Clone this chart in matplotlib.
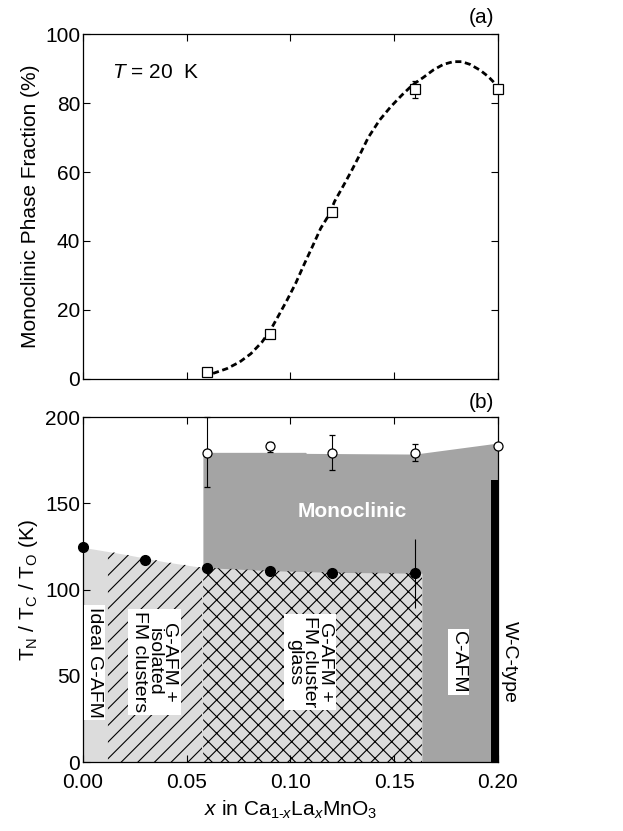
import numpy as np
import matplotlib.pyplot as plt

plt.rcParams['font.family'] = ['Liberation Sans', 'DejaVu Sans']
plt.rcParams['mathtext.fontset'] = 'custom'
plt.rcParams['mathtext.rm'] = 'Liberation Sans'
plt.rcParams['mathtext.it'] = 'Liberation Sans:italic'
plt.rcParams['hatch.linewidth'] = 0.8

# (a) monoclinic phase fraction at 20 K
frac_x = [0.06, 0.09, 0.12, 0.16, 0.20]
frac_y = [2.0, 13.0, 48.5, 84.0, 84.2]
frac_err = [1.0, 1.2, 1.2, 2.5, 1.0]

# dashed guide-to-the-eye curve
guide_x = [0.0627, 0.0694, 0.0755, 0.0809, 0.0863, 0.0903, 0.0944, 0.0984,
           0.1025, 0.1065, 0.1106, 0.1146, 0.1186, 0.1213, 0.1254, 0.1294,
           0.1335, 0.1375, 0.1429, 0.1483, 0.1537, 0.1591, 0.164, 0.1689,
           0.1737, 0.1785, 0.1826, 0.1866, 0.1915, 0.1955, 0.1987]
guide_y = [1.6, 3.0, 4.9, 7.3, 10.7, 14.1, 18.5, 22.9,
           27.7, 33.1, 38.4, 43.7, 47.6, 51.5, 55.9, 60.3,
           65.1, 70.0, 75.0, 78.9, 82.3, 85.4, 87.4, 89.6,
           91.2, 92.0, 92.0, 91.2, 89.5, 87.6, 85.6]

# (b) transition temperatures
to_x = [0.06, 0.09, 0.12, 0.16, 0.20]
to_y = [179.5, 183.0, 179.5, 179.5, 183.5]
to_err_lo = [20.0, 3.0, 10.0, 5.0, 0.0]
to_err_hi = [20.5, 2.5, 10.0, 5.0, 0.0]

tn_x = [0.0, 0.03, 0.06, 0.09, 0.12, 0.16]
tn_y = [124.5, 117.0, 112.3, 110.7, 109.5, 109.5]
tn_err = [0, 0, 0, 0, 0, 20.0]

# region boundaries
gafm_edge_x = [0.0, 0.02, 0.04, 0.0578, 0.09, 0.12, 0.1634]
gafm_edge_y = [124.5, 120.5, 116.0, 112.8, 111.0, 110.0, 109.5]
mono_edge_x = [0.0578, 0.1075, 0.1076, 0.16, 0.20]
mono_edge_y = [179.6, 179.6, 179.0, 178.6, 185.0]
hatch_split = [0.0115, 0.0578, 0.1634]
wc_bar = (0.1966, 0.20, 163.5)

fs = 15
fig = plt.figure(figsize=(6.23, 8.31), dpi=100)
ax1 = fig.add_axes([0.1332, 0.544, 0.666, 0.415])
ax2 = fig.add_axes([0.1332, 0.083, 0.666, 0.415])

for ax in (ax1, ax2):
    ax.tick_params(direction='in', top=True, right=True, length=5, width=0.8,
                   labelsize=fs)
    ax.tick_params(axis='y', pad=2)
    ax.tick_params(axis='x', pad=8)
    ax.set_xlim(0, 0.2)
    ax.set_xticks([0, 0.05, 0.10, 0.15, 0.20])
    for s in ax.spines.values():
        s.set_linewidth(0.9)

# ---- panel (a)
ax1.plot(guide_x, guide_y, color='black', lw=2.0, ls=(0, (2.2, 1.3)), zorder=2)
ax1.errorbar(frac_x, frac_y, yerr=frac_err, fmt='s', ms=6.5, mfc='white',
             mec='black', mew=0.9, ecolor='black', elinewidth=0.8, capsize=2,
             zorder=3, clip_on=False)
ax1.set_ylim(0, 100)
ax1.set_yticks([0, 20, 40, 60, 80, 100])
ax1.set_xticklabels([])
ax1.set_ylabel('Monoclinic Phase Fraction (%)', fontsize=fs, labelpad=4)
ax1.text(0.014, 89, r'$T$ = 20  K', fontsize=fs, va='center')
ax1.text(0.99, 1.02, '(a)', transform=ax1.transAxes, ha='right', va='bottom',
         fontsize=fs)

# ---- panel (b)
gx = np.linspace(0, hatch_split[2], 300)
gy = np.interp(gx, gafm_edge_x, gafm_edge_y)
mx = np.linspace(hatch_split[1], 0.2, 300)
my = np.interp(mx, mono_edge_x, mono_edge_y)

ax2.fill_between(mx, 0, my, color='#a4a4a4', lw=0, zorder=1)
ax2.fill_between(gx, 0, gy, color='#dcdcdc', lw=0, zorder=1.5)
m1 = (gx >= hatch_split[0]) & (gx <= hatch_split[1])
ax2.fill_between(gx[m1], 0, gy[m1], facecolor='none', edgecolor='black',
                 hatch='//', lw=0, zorder=1.6)
m2 = gx >= hatch_split[1]
ax2.fill_between(gx[m2], 0, gy[m2], facecolor='none', edgecolor='black',
                 hatch='xx', lw=0, zorder=1.6)
ax2.fill_between([wc_bar[0], wc_bar[1]], 0, wc_bar[2], color='black', lw=0,
                 zorder=1.7)

ax2.errorbar(to_x, to_y, yerr=[to_err_lo, to_err_hi], fmt='o', ms=6.5,
             mfc='white', mec='black', mew=0.9, ecolor='black',
             elinewidth=0.8, capsize=2, zorder=4, clip_on=False)
ax2.errorbar(tn_x, tn_y, yerr=tn_err, fmt='o', ms=7, mfc='black', mec='black',
             ecolor='black', elinewidth=0.8, capsize=0, zorder=4,
             clip_on=False)

ax2.set_ylim(0, 200)
ax2.set_yticks([0, 50, 100, 150, 200])
ax2.set_xticklabels(['0.00', '0.05', '0.10', '0.15', '0.20'])
ax2.set_ylabel(r'T$_\mathrm{N}$ / T$_\mathrm{C}$ / T$_\mathrm{O}$ (K)',
               fontsize=fs, labelpad=4)
ax2.set_xlabel(r'$x$ in Ca$_{1\text{-}x}$La$_x$MnO$_3$', fontsize=fs,
               labelpad=5)
ax2.text(0.99, 1.015, '(b)', transform=ax2.transAxes, ha='right', va='bottom',
         fontsize=fs)

ax2.text(0.130, 145, 'Monoclinic', color='white', fontsize=fs,
         fontweight='bold', ha='center', va='center', zorder=5)

rs = 14
box = dict(facecolor='white', edgecolor='none', pad=1.5)
ax2.text(0.0055, 57.5, 'Ideal G-AFM', rotation=270, fontsize=rs,
         ha='center', va='center', bbox=box, zorder=5)
ax2.text(0.0345, 58, 'G-AFM +\nisolated\nFM clusters', rotation=270,
         fontsize=rs, ha='center', va='center', multialignment='center',
         linespacing=0.88, bbox=box, zorder=5)
ax2.text(0.1093, 58, 'G-AFM +\nFM cluster\nglass', rotation=270,
         fontsize=rs, ha='center', va='center', multialignment='center',
         linespacing=0.88, bbox=box, zorder=5)
ax2.text(0.181, 58, 'C-AFM', rotation=270, fontsize=rs, ha='center',
         va='center', bbox=box, zorder=5)
ax2.text(0.2055, 58, 'W-C-type', rotation=270, fontsize=rs, ha='center',
         va='center', zorder=5, clip_on=False)

fig.savefig('out.png', dpi=100)
